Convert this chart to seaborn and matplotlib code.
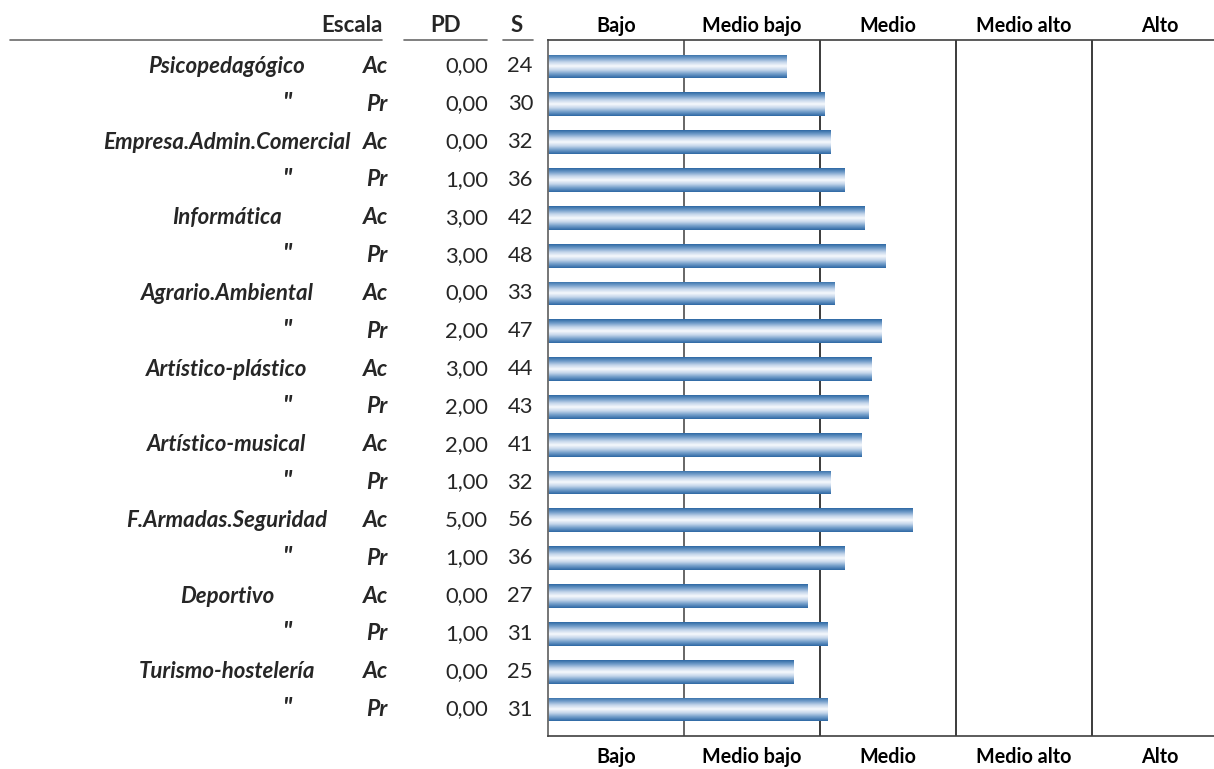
import numpy as np
import pandas as pd
import matplotlib
matplotlib.use("Agg")
import matplotlib.pyplot as plt
import seaborn as sns
from matplotlib.colors import LinearSegmentedColormap
from matplotlib.lines import Line2D
from matplotlib.transforms import blended_transform_factory

# ---------------- data ----------------
scale_names = ["Psicopedagógico", "Empresa.Admin.Comercial", "Informática",
               "Agrario.Ambiental", "Artístico-plástico", "Artístico-musical",
               "F.Armadas.Seguridad", "Deportivo", "Turismo-hostelería"]
row_types = ["Ac", "Pr"]
pd_values = [0, 0, 0, 1, 3, 3, 0, 2, 3, 2, 2, 1, 5, 1, 0, 1, 0, 0]
s_values = [24, 30, 32, 36, 42, 48, 33, 47, 44, 43, 41, 32, 56, 36, 27, 31, 25, 31]
# bar end position on the 0-100 band scale
bar_values = [35.1, 40.6, 41.6, 43.6, 46.6, 49.6, 42.1, 49.1, 47.6, 47.2,
              46.1, 41.6, 53.6, 43.6, 38.1, 41.1, 36.1, 41.1]
bands = ["Bajo", "Medio bajo", "Medio", "Medio alto", "Alto"]

rows = []
for name in scale_names:
    for t in row_types:
        rows.append((name if t == "Ac" else '"', t))
df = pd.DataFrame({
    "row": [str(i) for i in range(len(rows))],
    "label": [r[0] for r in rows],
    "type": [r[1] for r in rows],
    "pd": pd_values,
    "s": s_values,
    "bar": bar_values,
})

# ---------------- figure ----------------
W, H = 1214, 769
fig = plt.figure(figsize=(W / 100, H / 100), dpi=100)
sns.set_style("white")
plt.rcParams["font.family"] = ["Lato", "DejaVu Sans"]

left_px, right_px, top_px, bottom_px = 548, 1228, 40, 736
ax = fig.add_axes([left_px / W, 1 - bottom_px / H,
                   (right_px - left_px) / W, (bottom_px - top_px) / H])

sns.barplot(data=df, x="bar", y="row", orient="h", ax=ax, width=0.63,
            color="#3a72ad", edgecolor="none", linewidth=0)

n = len(df)
ax.set_xlim(0, 100)
ax.set_ylim(n - 0.3, -0.7)

# gradient fill in bars
cmap = LinearSegmentedColormap.from_list(
    "bargrad", ["#2c67a3", "#6f9bc8", "#c3d5ea", "#f7f9fd", "#c3d5ea", "#6f9bc8", "#2c67a3"])
grad = np.linspace(0, 1, 256).reshape(-1, 1)
for p in list(ax.patches):
    x0, y0 = p.get_x(), p.get_y()
    w, h = p.get_width(), p.get_height()
    p.set_facecolor("none")
    im = ax.imshow(grad, cmap=cmap, aspect="auto", extent=[x0, x0 + w, y0 + h, y0],
                   origin="upper", zorder=2, interpolation="bilinear")
    im.set_clip_path(p)
ax.set_xlim(0, 100)
ax.set_ylim(n - 0.3, -0.7)

# band separators
ax.axvline(20, color="#5a5a5a", lw=1.3, zorder=1)
for xv in (40, 60, 80):
    ax.axvline(xv, color="#1a1a1a", lw=1.2, zorder=1)

for s in ("top", "bottom"):
    ax.spines[s].set_color("#404040")
    ax.spines[s].set_linewidth(1.2)
ax.spines["left"].set_color("#6a6a6a")
ax.spines["left"].set_linewidth(1.3)
ax.spines["right"].set_visible(False)
ax.set_xticks([])
ax.set_yticks([])
ax.set_xlabel("")
ax.set_ylabel("")

# band labels top & bottom
tr_top = blended_transform_factory(ax.transData, fig.transFigure)
for i, b in enumerate(bands):
    xc = 10 + 20 * i
    ax.text(xc, 1 - 26 / H, b, transform=tr_top, ha="center", va="center",
            fontsize=14.2, fontweight="bold", color="black")
    ax.text(xc, 1 - 757 / H, b, transform=tr_top, ha="center", va="center",
            fontsize=14.2, fontweight="bold", color="black")

# left table columns
tr_rows = blended_transform_factory(fig.transFigure, ax.transData)
fs_num = 15.8
for i, r in df.iterrows():
    if r["label"] == '"':
        ax.text(288 / W, i - 0.05, '"', transform=tr_rows, ha="center", va="center",
                fontsize=18, fontweight="bold", style="italic")
    else:
        ax.text(227 / W, i, r["label"], transform=tr_rows, ha="center", va="center",
                fontsize=16, fontweight="bold", style="italic")
    ax.text(388 / W, i, r["type"], transform=tr_rows, ha="right", va="center",
            fontsize=16.5, fontweight="bold", style="italic")
    ax.text(488 / W, i, f"{r['pd']:.2f}".replace(".", ","), transform=tr_rows,
            ha="right", va="center", fontsize=fs_num)
    ax.text(533 / W, i, f"{r['s']}", transform=tr_rows, ha="right", va="center",
            fontsize=fs_num)

# headers
hy = 1 - 25 / H
fig.text(383 / W, hy, "Escala", ha="right", va="center", fontsize=16, fontweight="bold")
fig.text(446 / W, hy, "PD", ha="center", va="center", fontsize=16, fontweight="bold")
fig.text(517 / W, hy, "S", ha="center", va="center", fontsize=16, fontweight="bold")
ly = 1 - 40 / H
for xa, xb in ((10, 382), (404, 487), (503, 533)):
    fig.add_artist(Line2D([xa / W, xb / W], [ly, ly], transform=fig.transFigure,
                          color="#6a6a6a", lw=1.2))

fig.savefig("out.png", dpi=100)
